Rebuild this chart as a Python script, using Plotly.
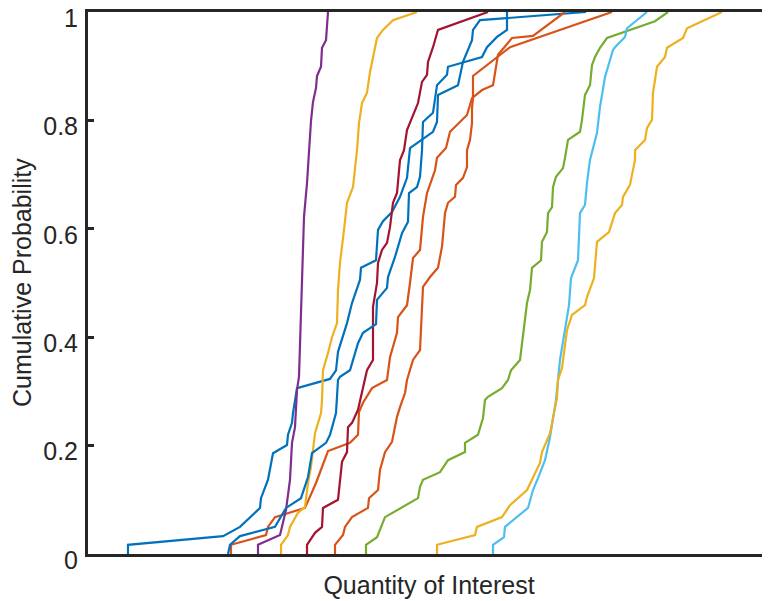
import plotly.graph_objects as go

# x values in nominal "quantity" units, y = cumulative probability
purple_x = [25.8,25.8,28.0,28.6,29.0,29.2,29.5,29.7,29.9,30.1,30.2,30.4,30.7,30.9,31.1,31.3,31.6,31.7,32.1,32.2,32.6,32.8]
purple_y = [0,0.017,0.035,0.081,0.137,0.205,0.234,0.303,0.327,0.437,0.530,0.622,0.684,0.745,0.799,0.834,0.860,0.882,0.899,0.934,0.948,1.0]

blue1_x = [12.8,12.8,22.3,24.0,26.0,26.1,26.8,27.3,28.7,28.8,29.2,29.3,29.7,33.0,33.6,33.8,34.7,35.2,36.0,36.1,37.6,37.8,38.3,39.2,40.0,40.7,41.0,43.3,43.7,43.8,45.8,46.2,46.3,47.2,47.3,48.0,58.6]
blue1_y = [0,0.017,0.033,0.050,0.085,0.103,0.137,0.186,0.201,0.220,0.242,0.260,0.306,0.323,0.339,0.373,0.426,0.463,0.506,0.528,0.542,0.598,0.614,0.631,0.659,0.694,0.749,0.779,0.797,0.847,0.865,0.899,0.908,0.948,0.967,0.985,1.0]

blue2_x = [22.8,23.0,24.0,27.5,28.6,30.1,30.8,31.2,32.6,33.0,33.6,33.8,34.0,35.0,35.8,36.3,37.6,37.7,38.7,38.8,39.5,40.2,40.8,40.9,41.7,42.0,42.2,42.3,43.3,43.7,44.7,44.8,48.2,48.7,49.7,50.7,50.7]
blue2_y = [0,0.017,0.033,0.050,0.085,0.103,0.142,0.186,0.205,0.220,0.260,0.321,0.327,0.339,0.389,0.408,0.424,0.469,0.491,0.511,0.548,0.592,0.613,0.666,0.677,0.696,0.745,0.797,0.814,0.865,0.884,0.899,0.917,0.935,0.954,0.967,1.0]

red_x = [30.7,30.7,31.5,32.2,32.3,33.8,34.2,34.7,34.8,35.2,35.8,36.2,36.7,37.3,37.3,37.7,37.8,38.2,38.7,39.0,39.3,39.7,40.0,40.4,40.7,41.8,42.2,42.7,42.8,43.3,43.8,48.8]
red_y = [0,0.017,0.039,0.050,0.085,0.100,0.170,0.188,0.234,0.242,0.266,0.297,0.339,0.358,0.456,0.500,0.537,0.561,0.574,0.603,0.648,0.666,0.727,0.745,0.782,0.832,0.871,0.884,0.908,0.935,0.967,1.0]

yellow1_x = [28.1,28.1,28.8,29.0,29.8,30.5,30.8,31.1,31.5,32.1,32.2,32.3,32.8,33.2,33.7,33.8,34.0,34.3,34.4,34.7,35.3,35.7,35.9,36.2,36.7,37.0,37.5,37.7,38.3,39.3,41.7]
yellow1_y = [0,0.017,0.035,0.050,0.076,0.087,0.131,0.161,0.223,0.260,0.284,0.339,0.371,0.400,0.426,0.487,0.537,0.579,0.598,0.648,0.677,0.745,0.795,0.832,0.851,0.889,0.930,0.952,0.967,0.985,1.0]

orange1_x = [23.1,23.1,26.6,26.8,27.5,30.5,31.6,32.8,35.0,35.8,35.9,36.3,37.2,38.7,39.0,39.7,39.8,40.7,41.0,41.3,42.0,42.3,42.7,43.2,43.5,43.7,44.6,45.0,46.7,47.2,48.2,49.3,49.8,51.2,53.3,56.5]
orange1_y = [0,0.017,0.035,0.050,0.068,0.085,0.131,0.190,0.205,0.220,0.262,0.279,0.306,0.321,0.363,0.408,0.437,0.459,0.500,0.546,0.561,0.622,0.666,0.690,0.708,0.731,0.749,0.779,0.810,0.841,0.856,0.865,0.921,0.952,0.956,1.0]

orange2_x = [33.5,33.5,34.3,34.5,35.2,36.8,36.9,37.8,38.0,38.5,39.2,39.7,40.0,40.5,40.7,41.3,42.0,42.3,43.0,43.8,44.2,44.5,44.8,45.5,45.6,46.3,46.7,46.7,47.0,47.2,47.2,47.3,47.3,49.8,51.0,61.2]
orange2_y = [0,0.017,0.035,0.050,0.068,0.085,0.103,0.118,0.155,0.188,0.207,0.253,0.271,0.297,0.321,0.358,0.376,0.493,0.511,0.528,0.567,0.629,0.648,0.659,0.681,0.694,0.714,0.745,0.764,0.795,0.823,0.841,0.882,0.917,0.935,1.0]

green_x = [36.6,36.6,37.7,38.5,41.8,42.0,42.3,44.0,44.8,46.5,46.5,47.8,48.3,48.5,48.8,50.2,50.8,51.1,52.0,52.2,52.4,52.7,53.0,53.2,54.1,54.2,54.7,54.8,55.2,55.3,55.6,56.3,56.5,56.8,58.0,58.2,58.5,59.0,59.2,59.5,60.0,60.7,65.5,66.8]
green_y = [0,0.017,0.031,0.068,0.103,0.124,0.137,0.151,0.173,0.188,0.205,0.220,0.251,0.284,0.290,0.306,0.321,0.339,0.358,0.389,0.426,0.463,0.487,0.528,0.542,0.576,0.594,0.629,0.640,0.677,0.696,0.712,0.731,0.764,0.779,0.801,0.847,0.865,0.902,0.917,0.934,0.952,0.983,1.0]

lightblue_x = [49.3,49.3,50.4,50.5,52.8,53.3,53.8,54.5,55.0,55.3,55.6,56.0,56.7,56.9,57.1,57.8,58.0,58.5,58.7,59.0,59.7,60.0,60.5,60.9,61.3,61.5,62.5,62.7,64.7]
lightblue_y = [0,0.017,0.031,0.050,0.085,0.118,0.140,0.173,0.216,0.247,0.284,0.358,0.437,0.459,0.509,0.542,0.629,0.644,0.685,0.727,0.777,0.825,0.880,0.906,0.930,0.935,0.954,0.970,1.0]

yellow2_x = [43.7,43.7,47.5,47.7,50.2,51.0,52.7,54.0,54.2,55.0,55.7,55.8,56.2,56.5,56.7,57.2,58.5,58.7,59.4,59.7,59.9,60.9,61.5,62.2,62.3,63.0,63.5,63.5,64.5,64.7,65.2,65.3,65.7,66.5,66.7,68.3,68.7,72.2]
yellow2_y = [0,0.017,0.035,0.050,0.068,0.090,0.118,0.168,0.188,0.223,0.288,0.321,0.343,0.389,0.413,0.441,0.459,0.474,0.509,0.576,0.579,0.594,0.629,0.644,0.659,0.681,0.727,0.745,0.764,0.786,0.801,0.851,0.899,0.917,0.934,0.952,0.970,1.0]

series = [
    (blue1_x, blue1_y, "#0072BD"),
    (orange1_x, orange1_y, "#D95319"),
    (yellow1_x, yellow1_y, "#EDB120"),
    (purple_x, purple_y, "#7E2F8E"),
    (green_x, green_y, "#77AC30"),
    (lightblue_x, lightblue_y, "#4DBEEE"),
    (red_x, red_y, "#A2142F"),
    (blue2_x, blue2_y, "#0072BD"),
    (orange2_x, orange2_y, "#D95319"),
    (yellow2_x, yellow2_y, "#EDB120"),
]

y_ticks = [0, 0.2, 0.4, 0.6, 0.8, 1]
y_tick_text = ["0", "0.2", "0.4", "0.6", "0.8", "1"]

fig = go.Figure()
for xs, ys, col in series:
    fig.add_trace(go.Scatter(x=xs, y=ys, mode="lines",
                             line=dict(color=col, width=2.2),
                             showlegend=False, hoverinfo="skip", cliponaxis=False))

axis_col = "#262626"
# the page body adds an 8 px offset, so the figure is sized to fill the rest of the window
fig.update_layout(
    width=762, height=593,
    margin=dict(l=80, r=0, t=4, b=47),
    paper_bgcolor="white", plot_bgcolor="white",
    font=dict(family="Liberation Sans, Arial, sans-serif", color=axis_col, size=25),
    xaxis=dict(range=[8.8, 77.0], showgrid=False, zeroline=False, automargin=False,
               showline=True, linecolor=axis_col, linewidth=3, mirror=True,
               showticklabels=False, ticks="",
               title=dict(text="Quantity of Interest", standoff=21,
                          font=dict(size=25, color=axis_col))),
    yaxis=dict(range=[0, 1], showgrid=False, zeroline=False, automargin=False,
               showline=True, linecolor=axis_col, linewidth=3, mirror=False,
               tickvals=y_ticks, ticktext=y_tick_text,
               ticks="inside", ticklen=6, tickwidth=3, tickcolor=axis_col,
               ticklabelstandoff=2, ticklabelshift=6, ticklabeloverflow="allow",
               tickfont=dict(size=25, color=axis_col)),
    annotations=[dict(text="Cumulative Probability", xref="paper", yref="paper",
                      x=0, y=0.5, xanchor="center", yanchor="middle",
                      xshift=-66, textangle=-90, showarrow=False,
                      font=dict(size=25, color=axis_col))],
)

fig.write_html("out.html")
